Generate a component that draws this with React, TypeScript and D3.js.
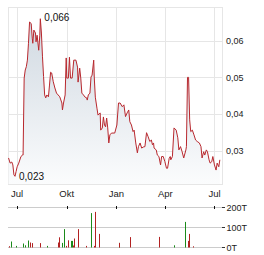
import React from "react";
import * as d3 from "d3";

const priceDates = [
  "2023-06-15","2023-06-18","2023-06-21","2023-06-23","2023-06-25","2023-06-27","2023-06-29","2023-07-01","2023-07-04","2023-07-08",
  "2023-07-11","2023-07-12","2023-07-14","2023-07-16","2023-07-18","2023-07-20","2023-07-22","2023-07-24","2023-07-27","2023-07-29",
  "2023-07-30","2023-08-01","2023-08-04","2023-08-05","2023-08-07","2023-08-10","2023-08-12","2023-08-13","2023-08-15","2023-08-17",
  "2023-08-19","2023-08-21","2023-08-23","2023-08-25","2023-08-28","2023-08-30","2023-09-01","2023-09-03","2023-09-06","2023-09-09",
  "2023-09-12","2023-09-15","2023-09-18","2023-09-22","2023-09-23","2023-09-25","2023-09-28","2023-09-30","2023-10-01","2023-10-04",
  "2023-10-06","2023-10-08","2023-10-11","2023-10-14","2023-10-18","2023-10-21","2023-10-22","2023-10-25","2023-10-27","2023-10-29",
  "2023-11-01","2023-11-04","2023-11-07","2023-11-08","2023-11-10","2023-11-13","2023-11-15","2023-11-17","2023-11-20","2023-11-21",
  "2023-11-23","2023-11-26","2023-11-28","2023-12-02","2023-12-03","2023-12-06","2023-12-08","2023-12-10","2023-12-12","2023-12-14",
  "2023-12-16","2023-12-18","2023-12-20","2023-12-23","2023-12-29","2024-01-02","2024-01-05","2024-01-08","2024-01-12","2024-01-15",
  "2024-01-18","2024-01-21","2024-01-24","2024-01-26","2024-01-29","2024-02-01","2024-02-03","2024-02-06","2024-02-09","2024-02-11",
  "2024-02-14","2024-02-17","2024-02-20","2024-02-23","2024-02-26","2024-02-29","2024-03-03","2024-03-06","2024-03-08","2024-03-10",
  "2024-03-11","2024-03-15","2024-03-17","2024-03-20","2024-03-23","2024-03-25","2024-03-28","2024-03-31","2024-04-03","2024-04-05",
  "2024-04-08","2024-04-10","2024-04-11","2024-04-14","2024-04-17","2024-04-21","2024-04-24","2024-04-26","2024-04-29","2024-05-02",
  "2024-05-05","2024-05-09","2024-05-10","2024-05-12","2024-05-14","2024-05-16","2024-05-18","2024-05-21","2024-05-24","2024-05-27",
  "2024-05-30","2024-06-03","2024-06-06","2024-06-08","2024-06-11","2024-06-13","2024-06-16","2024-06-18","2024-06-21","2024-06-23",
  "2024-06-26","2024-06-28","2024-07-01","2024-07-04","2024-07-06","2024-07-09","2024-07-11",
];

const priceValues = [
  0.0280,0.0266,0.0269,0.0261,0.0234,0.0230,0.0243,0.0256,0.0266,0.0284,
  0.0288,0.0288,0.0498,0.0520,0.0529,0.0547,0.0593,0.0651,0.0647,0.0607,
  0.0593,0.0629,0.0621,0.0597,0.0615,0.0574,0.0615,0.0660,0.0621,0.0556,
  0.0502,0.0452,0.0444,0.0452,0.0447,0.0479,0.0514,0.0512,0.0488,0.0471,
  0.0457,0.0452,0.0447,0.0430,0.0411,0.0430,0.0452,0.0553,0.0498,0.0498,
  0.0555,0.0498,0.0498,0.0547,0.0547,0.0528,0.0487,0.0525,0.0498,0.0457,
  0.0452,0.0446,0.0444,0.0438,0.0452,0.0457,0.0501,0.0506,0.0547,0.0501,
  0.0446,0.0416,0.0397,0.0403,0.0356,0.0362,0.0392,0.0370,0.0365,0.0389,
  0.0362,0.0321,0.0343,0.0348,0.0348,0.0370,0.0430,0.0430,0.0420,0.0425,
  0.0393,0.0403,0.0411,0.0379,0.0370,0.0352,0.0356,0.0321,0.0294,0.0311,
  0.0321,0.0307,0.0310,0.0311,0.0349,0.0338,0.0325,0.0329,0.0316,0.0321,
  0.0307,0.0302,0.0288,0.0284,0.0261,0.0284,0.0284,0.0270,0.0252,0.0252,
  0.0279,0.0284,0.0275,0.0284,0.0362,0.0356,0.0335,0.0302,0.0311,0.0297,
  0.0280,0.0302,0.0311,0.0500,0.0500,0.0384,0.0352,0.0356,0.0343,0.0329,
  0.0325,0.0321,0.0311,0.0280,0.0297,0.0288,0.0302,0.0297,0.0275,0.0266,
  0.0270,0.0284,0.0261,0.0247,0.0266,0.0256,0.0275,
];

const volumeDates = [
  "2023-06-15","2023-06-20","2023-06-29","2023-07-12","2023-07-16","2023-07-21","2023-07-24","2023-07-28","2023-08-13","2023-08-26",
  "2023-09-15","2023-09-17","2023-09-23","2023-09-26","2023-09-30","2023-10-04","2023-10-09","2023-10-11","2023-10-13","2023-10-15",
  "2023-10-21","2023-11-06","2023-11-15","2023-11-21","2023-11-23","2023-11-30","2024-01-05","2024-01-06","2024-01-27","2024-03-21",
  "2024-04-17","2024-05-08","2024-05-12","2024-05-15","2024-05-23",
];
const volumeValues = [
  6500,30000,8000,20000,11000,35000,25000,22000,22000,8000,
  25000,51000,23000,92000,8000,36000,33000,33000,10000,45000,
  92000,8000,172000,8000,178000,68000,23000,23000,52000,53000,
  11000,128000,33000,68000,6000,
];
const volumeUp = [
  false,true,true,true,true,true,false,false,false,true,
  false,false,true,true,false,false,true,true,false,false,
  false,false,true,false,false,false,true,false,false,false,
  true,true,false,false,false,
];

const xTickDates = ["2023-07-01","2023-10-01","2024-01-01","2024-04-01","2024-07-01"];
const xTickLabels = ["Jul","Okt","Jan","Apr","Jul"];
const priceTicks = [0.03, 0.04, 0.05, 0.06];
const volumeTicks = [0, 100000, 200000];
const volumeTickLabels = ["0T", "100T", "200T"];

const parse = d3.timeParse("%Y-%m-%d");
const locale = d3.formatLocale({ decimal: ",", thousands: ".", grouping: [3], currency: ["", "€"] });
const fmt2 = locale.format(".2f");
const fmt3 = locale.format(".3f");

const FONT = "'Liberation Sans', Arial, sans-serif";

export default function App() {
  const W = 264, H = 255;
  const left = 8, right = 222, top = 7, bottom = 184;
  const vTop = 207.5, vBottom = 247.5;

  const x = d3.scaleTime()
    .domain([parse("2023-06-14")!, parse("2024-07-15")!])
    .range([left, right]);
  const y = d3.scaleLinear().domain([0.0209, 0.0692]).range([bottom, top]);
  const yv = d3.scaleLinear().domain([0, 200000]).range([vBottom, vTop]);

  const pts = priceDates.map((d, i) => ({ d: parse(d)!, v: priceValues[i] }));
  const line = d3.line<{ d: Date; v: number }>().x(p => x(p.d)).y(p => y(p.v));
  const area = d3.area<{ d: Date; v: number }>().x(p => x(p.d)).y0(bottom).y1(p => y(p.v));

  const maxIdx = d3.maxIndex(priceValues);
  const minIdx = d3.minIndex(priceValues);
  const maxP = pts[maxIdx], minP = pts[minIdx];

  const crisp = (v: number) => Math.round(v) + 0.5;

  return (
    <svg width={W} height={H} style={{ position: "absolute", left: 0, top: 0, background: "#fff" }} fontFamily={FONT}>
      <defs>
        <linearGradient id="fillGrad" gradientUnits="userSpaceOnUse" x1="0" y1={top} x2="0" y2={bottom}>
          <stop offset="0" stopColor="#cdd6df" />
          <stop offset="1" stopColor="#fbfcfd" />
        </linearGradient>
      </defs>

      {/* price grid */}
      <rect x={left + 0.5} y={top + 0.5} width={right - left} height={bottom - top} fill="none" stroke="#e6e6e6" />
      {xTickDates.map((d, i) => (
        <line key={"vg" + i} x1={crisp(x(parse(d)!))} x2={crisp(x(parse(d)!))} y1={top} y2={bottom} stroke="#e6e6e6" />
      ))}
      {priceTicks.map((t, i) => (
        <line key={"hg" + i} x1={left} x2={right} y1={crisp(y(t))} y2={crisp(y(t))} stroke="#e6e6e6" />
      ))}

      <path d={area(pts)!} fill="url(#fillGrad)" />
      <path d={line(pts)!} fill="none" stroke="#b8282e" strokeWidth={1} strokeLinejoin="round" />

      <text x={x(maxP.d) + 4} y={y(maxP.v) + 2.5} fontSize={10} fill="#111">{fmt3(maxP.v)}</text>
      <text x={x(minP.d) + 4} y={y(minP.v) + 3.5} fontSize={10} fill="#111">{fmt3(minP.v)}</text>

      {priceTicks.map((t, i) => (
        <text key={"pl" + i} x={226} y={y(t)} dy="0.35em" fontSize={9} fill="#222">{fmt2(t)}</text>
      ))}
      {xTickDates.map((d, i) => (
        <text key={"xl" + i} x={x(parse(d)!)} y={197} textAnchor="middle" fontSize={9.5} fill="#222">{xTickLabels[i]}</text>
      ))}

      {/* volume */}
      {volumeTicks.map((t, i) => (
        <g key={"vt" + i}>
          <line x1={left} x2={right} y1={yv(t)} y2={yv(t)} stroke="#cccccc" />
          <line x1={222} x2={225} y1={yv(t)} y2={yv(t)} stroke="#333" />
          <text x={226.5} y={yv(t)} dy="0.35em" fontSize={9} fill="#222">{volumeTickLabels[i]}</text>
        </g>
      ))}
      {xTickDates.map((d, i) => (
        <line key={"tk" + i} x1={crisp(x(parse(d)!))} x2={crisp(x(parse(d)!))} y1={206} y2={209} stroke="#111" />
      ))}
      {volumeDates.map((d, i) => (
        <rect key={"vb" + i} x={Math.round(x(parse(d)!))} y={yv(volumeValues[i])} width={1}
          height={vBottom - yv(volumeValues[i])} fill={volumeUp[i] ? "#1a8a1a" : "#b22222"} />
      ))}
    </svg>
  );
}
